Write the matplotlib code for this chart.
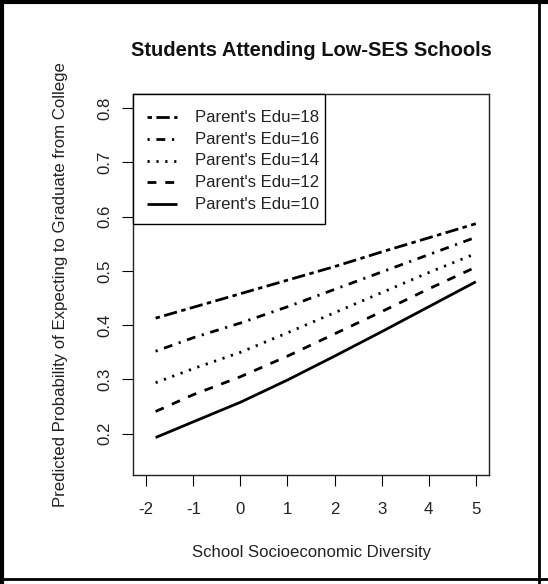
import matplotlib
matplotlib.use("Agg")
import matplotlib.pyplot as plt
from matplotlib.lines import Line2D
from matplotlib.patches import Rectangle

plt.rcParams["font.family"] = ["Liberation Sans", "DejaVu Sans"]

# Predicted probabilities across school socioeconomic diversity
diversity = [-1.8, -1, 0, 1, 2, 3, 4, 5]
edu18 = [0.413, 0.433, 0.458, 0.483, 0.508, 0.535, 0.561, 0.587]
edu16 = [0.352, 0.377, 0.404, 0.434, 0.466, 0.498, 0.530, 0.562]
edu14 = [0.294, 0.320, 0.350, 0.386, 0.423, 0.460, 0.497, 0.532]
edu12 = [0.241, 0.272, 0.305, 0.343, 0.384, 0.425, 0.467, 0.507]
edu10 = [0.193, 0.222, 0.258, 0.299, 0.343, 0.388, 0.434, 0.480]

series_labels = ["Parent's Edu=18", "Parent's Edu=16", "Parent's Edu=14",
                 "Parent's Edu=12", "Parent's Edu=10"]
x_ticks = [-2, -1, 0, 1, 2, 3, 4, 5]
y_ticks = [0.2, 0.3, 0.4, 0.5, 0.6, 0.7, 0.8]

W, H = 548, 584
fig = plt.figure(figsize=(W / 100, H / 100), dpi=100)
fig.patch.set_facecolor("white")


def fx(px):
    return px / W


def fy(py):
    return 1 - py / H


# axes box in pixel coordinates
left, right, top, bottom = 133, 489, 94, 475
ax = fig.add_axes([fx(left), fy(bottom), (right - left) / W, (bottom - top) / H])


def dash(*seq, k=0.8):
    return (0, tuple(v * k for v in seq))


styles = [
    dash(2, 2, 6, 2),    # twodash
    dash(1, 3, 4, 3),    # dotdash
    dash(1, 3),          # dotted
    dash(4, 4),          # dashed
    "-",                 # solid
]
data = [edu18, edu16, edu14, edu12, edu10]
lw = 2.0
for ys, ls in zip(data, styles):
    ax.plot(diversity, ys, color="black", lw=lw, linestyle=ls,
            dash_capstyle="butt", solid_capstyle="butt")

ax.set_xlim(-2.28, 5.28)
ax.set_ylim(0.124, 0.826)
ax.set_xticks(x_ticks)
ax.set_xticklabels([str(v) for v in x_ticks])
ax.set_yticks(y_ticks)
ax.set_yticklabels([f"{v:.1f}" for v in y_ticks])

fs = 12.1
ax.tick_params(axis="both", direction="out", length=7.7, width=0.8,
               labelsize=fs, colors="black", labelcolor="#222222")
ax.tick_params(axis="x", pad=12.0)
ax.tick_params(axis="y", pad=7.0, labelrotation=90)
for t in ax.get_yticklabels():
    t.set_va("center")
for s in ax.spines.values():
    s.set_linewidth(1.0)
    s.set_color("#222222")

# legend box in the upper-left corner of the plot region
leg_right, leg_bottom = 325, 224
fig.add_artist(Rectangle((fx(left), fy(leg_bottom)), (leg_right - left) / W,
                         (leg_bottom - top) / H, transform=fig.transFigure,
                         facecolor="white", edgecolor="black", lw=1.0, zorder=5))
row0, row_step = 117.3, 21.7
for i, (ls, lab) in enumerate(zip(styles, series_labels)):
    yrow = row0 + i * row_step
    fig.add_artist(Line2D([fx(147), fx(177)], [fy(yrow), fy(yrow)],
                          transform=fig.transFigure, color="black", lw=lw,
                          linestyle=ls, dash_capstyle="butt",
                          solid_capstyle="butt", zorder=6))
    fig.text(fx(195), fy(yrow), lab, ha="left", va="center", fontsize=fs,
             color="#222222", zorder=6)

fig.text(fx(311), fy(50), "Students Attending Low-SES Schools",
         ha="center", va="center", fontsize=14.5, fontweight="bold",
         color="#111111")
fig.text(fx(311), fy(553), "School Socioeconomic Diversity",
         ha="center", va="center", fontsize=fs, color="#222222")
fig.text(fx(61), fy(284.5),
         "Predicted Probability of Expecting to Graduate from College",
         ha="center", va="center", rotation=90, fontsize=fs, color="#222222")

# outer frame
fig.add_artist(Line2D([fx(2), fx(2)], [0, 1], transform=fig.transFigure,
                      color="black", lw=3))
fig.add_artist(Line2D([0, 1], [fy(2), fy(2)], transform=fig.transFigure,
                      color="black", lw=3))
fig.add_artist(Line2D([fx(539), fx(539)], [0, 1], transform=fig.transFigure,
                      color="black", lw=2))
fig.add_artist(Line2D([0, 1], [fy(579), fy(579)], transform=fig.transFigure,
                      color="black", lw=2))

fig.savefig("out.png", dpi=100, facecolor="white")
